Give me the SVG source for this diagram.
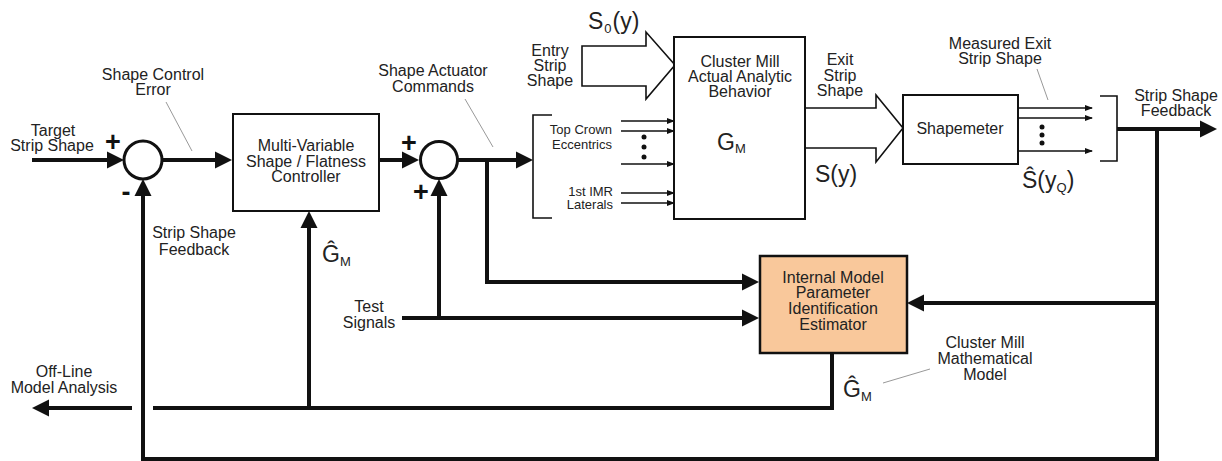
<svg xmlns="http://www.w3.org/2000/svg" width="1222" height="461" viewBox="0 0 1222 461">
<style>
.t{font-family:"Liberation Sans",Arial,sans-serif;font-size:16px;fill:#222;text-anchor:middle}
.s{font-family:"Liberation Sans",Arial,sans-serif;font-size:13px;fill:#222;text-anchor:end}
.m{font-family:"Liberation Sans",Arial,sans-serif;font-size:23px;fill:#222}
.pm{font-family:"Liberation Sans",Arial,sans-serif;font-size:27px;font-weight:bold;fill:#111;text-anchor:middle}
.box{fill:#fff;stroke:#111;stroke-width:2}
.thick{fill:none;stroke:#111;stroke-width:4;marker-end:url(#ah)}
.plain{fill:none;stroke:#111;stroke-width:4}
.thin{fill:none;stroke:#111;stroke-width:1.4;marker-end:url(#sa)}
.lead{fill:none;stroke:#999;stroke-width:1}
.hollow{fill:#fff;stroke:#111;stroke-width:1.6}
.brk{fill:none;stroke:#111;stroke-width:1.6}
</style>
<defs>
<marker id="ah" markerUnits="userSpaceOnUse" markerWidth="18" markerHeight="18" refX="4" refY="8.5" orient="auto" overflow="visible">
<path d="M0,0 L17,8.5 L0,17 z" fill="#111"/>
</marker>
<marker id="sa" markerUnits="userSpaceOnUse" markerWidth="8" markerHeight="7" refX="7" refY="3" orient="auto" overflow="visible">
<path d="M0,0 L8,3 L0,6 z" fill="#111"/>
</marker>
</defs>
<rect width="1222" height="461" fill="#fff"/>

<g id="connectors">
<path class="thick" d="M32,160 H111"/>
<path class="thick" d="M162,160 H219"/>
<path class="thick" d="M379,160 H406"/>
<path class="thick" d="M457,160 H520"/>
<path class="thick" d="M487,160 V282 H746"/>
<path class="thick" d="M402,318 H746"/>
<path class="thick" d="M439,318 V192"/>
<path class="thick" d="M1117,129 H1204"/>
<path class="thick" d="M1157,129 V459 H143 V192"/>
<path class="thick" d="M1157,303 H920"/>
<path class="plain" d="M832,353 V408 H153"/>
<path class="thick" d="M132,408 H45"/>
<path class="thick" d="M309,408 V224"/>
<path class="thin" d="M621,121 H674"/>
<path class="thin" d="M621,131 H674"/>
<path class="thin" d="M621,164 H674"/>
<path class="thin" d="M621,193 H674"/>
<path class="thin" d="M621,203 H674"/>
<path class="thin" d="M1018,108 H1092"/>
<path class="thin" d="M1018,118 H1092"/>
<path class="thin" d="M1018,151 H1092"/>
<path class="hollow" d="M582,46 H646 V32 L675,65 L646,99 V86 H582 Z"/>
<path class="hollow" d="M805,108 H876 V95 L903,128 L876,162 V148 H805"/>
<path class="brk" d="M552,115 H533 V218 H552"/>
<path class="brk" d="M1100,96 H1117 V161 H1100"/>
<g fill="#111">
<circle cx="644" cy="137" r="2.5"/><circle cx="644" cy="147" r="2.5"/><circle cx="644" cy="157" r="2.5"/>
<circle cx="1042" cy="127" r="2.5"/><circle cx="1042" cy="135" r="2.5"/><circle cx="1042" cy="143" r="2.5"/>
</g>
<path class="lead" d="M166,102 L192,151"/>
<path class="lead" d="M465,99 L493,147"/>
<path class="lead" d="M1037,69 L1048,100"/>
<path class="lead" d="M883,383 L930,369"/>
</g>

<g id="sum1">
<circle cx="143" cy="160" r="19" fill="#fff" stroke="#111" stroke-width="3"/>
<text class="pm" x="113" y="151">+</text>
<text class="pm" x="126" y="201">-</text>
</g>
<g id="sum2">
<circle cx="439" cy="160" r="18.5" fill="#fff" stroke="#111" stroke-width="3"/>
<text class="pm" x="409" y="152">+</text>
<text class="pm" x="421" y="201">+</text>
</g>

<g id="controller">
<rect class="box" x="233" y="114" width="146" height="97"/>
<text class="t" x="306" y="151">Multi-Variable</text>
<text class="t" x="306" y="167">Shape / Flatness</text>
<text class="t" x="306" y="182">Controller</text>
</g>

<g id="mill">
<rect class="box" x="674" y="37" width="131" height="182"/>
<text class="t" x="740" y="67">Cluster Mill</text>
<text class="t" x="740" y="82">Actual Analytic</text>
<text class="t" x="740" y="97">Behavior</text>
<text class="m" x="717" y="150" font-size="27">G<tspan font-size="13" dy="3">M</tspan></text>
</g>

<g id="shapemeter">
<rect class="box" x="903" y="95" width="115" height="69"/>
<text class="t" x="960" y="134">Shapemeter</text>
</g>

<g id="estimator">
<rect x="760" y="256" width="147" height="97" fill="#F9C89B" stroke="#111" stroke-width="2.5"/>
<text class="t" x="833" y="283">Internal Model</text>
<text class="t" x="833" y="298">Parameter</text>
<text class="t" x="833" y="314">Identification</text>
<text class="t" x="833" y="330">Estimator</text>
</g>

<g id="labels">
<text class="t" x="53" y="136">Target</text>
<text class="t" x="52" y="151">Strip Shape</text>
<text class="t" x="153" y="80">Shape Control</text>
<text class="t" x="153" y="95">Error</text>
<text class="t" x="194" y="238">Strip Shape</text>
<text class="t" x="194" y="255">Feedback</text>
<text class="t" x="433" y="76">Shape Actuator</text>
<text class="t" x="433" y="92">Commands</text>
<text class="t" x="550" y="56">Entry</text>
<text class="t" x="550" y="71">Strip</text>
<text class="t" x="550" y="86">Shape</text>
<text class="s" x="612" y="134">Top Crown</text>
<text class="s" x="612" y="149">Eccentrics</text>
<text class="s" x="613" y="196" font-size="11">1st IMR</text>
<text class="s" x="613" y="209" font-size="11">Laterals</text>
<text class="t" x="840" y="65">Exit</text>
<text class="t" x="840" y="81">Strip</text>
<text class="t" x="840" y="96">Shape</text>
<text class="t" x="1000" y="49">Measured Exit</text>
<text class="t" x="1000" y="64">Strip Shape</text>
<text class="t" x="1176" y="101">Strip Shape</text>
<text class="t" x="1176" y="116">Feedback</text>
<text class="t" x="369" y="312">Test</text>
<text class="t" x="369" y="328">Signals</text>
<text class="t" x="64" y="377">Off-Line</text>
<text class="t" x="64" y="393">Model Analysis</text>
<text class="t" x="985" y="348">Cluster Mill</text>
<text class="t" x="985" y="364">Mathematical</text>
<text class="t" x="985" y="380">Model</text>
<text class="m" x="588" y="29" font-size="22">S<tspan font-size="13" dy="4" dx="1">0</tspan><tspan dy="-4" dx="1">(y)</tspan></text>
<text class="m" x="815" y="182">S(y)</text>
<text class="m" x="1022" y="188">Ŝ(y<tspan font-size="13" dy="4">Q</tspan><tspan dy="-4">)</tspan></text>
<text class="m" x="322" y="262" font-size="24">Ĝ<tspan font-size="13" dy="4">M</tspan></text>
<text class="m" x="843" y="397" font-size="24">Ĝ<tspan font-size="13" dy="4">M</tspan></text>
</g>
</svg>
